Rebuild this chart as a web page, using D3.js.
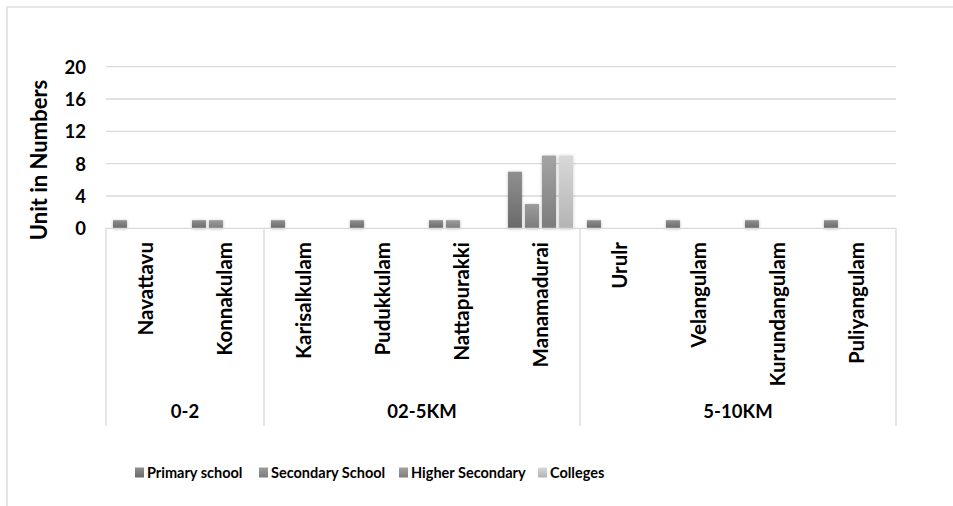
<!DOCTYPE html>
<html>
<head>
<meta charset="utf-8">
<script src="https://cdn.jsdelivr.net/npm/d3@7"></script>
<style>
  html, body { margin: 0; padding: 0; background: #fff; }
  svg { display: block; }
  text { font-family: Lato, "Open Sans", sans-serif; font-weight: bold; fill: #000; }
</style>
</head>
<body>
<svg id="chart" width="953" height="506"></svg>
<script>
// Villages, grouped by distance band
const villages = ["Navattavu", "Konnakulam", "Karisalkulam", "Pudukkulam", "Nattapurakki",
                  "Manamadurai", "Urulr", "Velangulam", "Kurundangulam", "Puliyangulam"];
const distanceBands = ["0-2", "02-5KM", "5-10KM"];
const bandOfVillage = ["0-2", "0-2", "02-5KM", "02-5KM", "02-5KM", "02-5KM",
                       "5-10KM", "5-10KM", "5-10KM", "5-10KM"];

// Series: number of institutions per village
const seriesNames = ["Primary school", "Secondary School", "Higher Secondary", "Colleges"];
const primarySchool   = [1, 1, 1, 1, 1, 7, 1, 1, 1, 1];
const secondarySchool = [0, 1, 0, 0, 1, 3, 0, 0, 0, 0];
const higherSecondary = [0, 0, 0, 0, 0, 9, 0, 0, 0, 0];
const colleges        = [0, 0, 0, 0, 0, 9, 0, 0, 0, 0];
const seriesValues = [primarySchool, secondarySchool, higherSecondary, colleges];

const yTicks = [0, 4, 8, 12, 16, 20];
const yTitle = "Unit in Numbers";

// Gradient stops (top, bottom) per series
const seriesShades = [["#8f8f8f", "#6a6a6a"], ["#9c9c9c", "#7c7c7c"],
                      ["#a4a4a4", "#7b7b7b"], ["#d8d8d8", "#b4b4b4"]];

const svg = d3.select("#chart");
const defs = svg.append("defs");

seriesShades.forEach((s, i) => {
  const g = defs.append("linearGradient").attr("id", "grad" + i)
    .attr("x1", 0).attr("y1", 0).attr("x2", 0).attr("y2", 1);
  g.append("stop").attr("offset", "0%").attr("stop-color", s[0]);
  g.append("stop").attr("offset", "100%").attr("stop-color", s[1]);
});
const shadow = defs.append("filter").attr("id", "shadow")
  .attr("x", "-40%").attr("y", "-40%").attr("width", "180%").attr("height", "180%");
shadow.append("feDropShadow").attr("dx", 0).attr("dy", 0.5)
  .attr("stdDeviation", 1.6).attr("flood-color", "#000").attr("flood-opacity", 0.28);

// Outer chart border
svg.append("rect").attr("x", 7).attr("y", 7).attr("width", 960).attr("height", 520)
  .attr("fill", "none").attr("stroke", "#d9d9d9").attr("stroke-width", 1.3);

const plot = { left: 106, right: 896, top: 66.7, bottom: 228.3 };

const y = d3.scaleLinear().domain([0, 20]).range([plot.bottom, plot.top]);
const x0 = d3.scaleBand().domain(villages).range([plot.left, plot.right]).padding(0);
const x1 = d3.scaleBand().domain(d3.range(seriesNames.length))
  .range([0, x0.bandwidth()]).paddingInner(0.18).paddingOuter(0.41);

// Gridlines
svg.append("g").selectAll("line").data(yTicks.filter(t => t > 0)).join("line")
  .attr("x1", plot.left).attr("x2", plot.right)
  .attr("y1", d => y(d)).attr("y2", d => y(d))
  .attr("stroke", "#d9d9d9").attr("stroke-width", 1.3);

// Y axis tick labels
const yAxis = d3.axisLeft(y).tickValues(yTicks).tickSize(0).tickPadding(0);
const yG = svg.append("g").attr("transform", `translate(${plot.left - 20},0)`).call(yAxis);
yG.select(".domain").remove();
yG.selectAll("text").attr("font-size", 18.5).attr("font-family", "Lato")
  .attr("font-weight", "bold").attr("fill", "#000").attr("dy", "0.35em");

// Y axis title
svg.append("text")
  .attr("transform", `translate(47,160) rotate(-90)`)
  .attr("text-anchor", "middle").attr("font-size", 22).text(yTitle);

// Bars
const barG = svg.append("g");
seriesValues.forEach((vals, si) => {
  barG.append("g").selectAll("rect")
    .data(vals.map((v, i) => ({ v, village: villages[i] })).filter(d => d.v > 0))
    .join("rect")
    .attr("x", d => x0(d.village) + x1(si))
    .attr("width", x1.bandwidth())
    .attr("y", d => y(d.v))
    .attr("height", d => y(0) - y(d.v))
    .attr("fill", `url(#grad${si})`)
    .attr("filter", "url(#shadow)");
});

// Category axis baseline
const catBottom = 426;
svg.append("line").attr("x1", plot.left).attr("x2", plot.right)
  .attr("y1", plot.bottom).attr("y2", plot.bottom)
  .attr("stroke", "#d9d9d9").attr("stroke-width", 1.3);

// Group separators (edges of each distance band)
const bandEdges = [plot.left];
distanceBands.forEach(b => {
  const last = villages.filter((v, i) => bandOfVillage[i] === b).slice(-1)[0];
  bandEdges.push(x0(last) + x0.bandwidth());
});
svg.append("g").selectAll("line").data(bandEdges).join("line")
  .attr("x1", d => d).attr("x2", d => d)
  .attr("y1", plot.bottom).attr("y2", catBottom)
  .attr("stroke", "#d9d9d9").attr("stroke-width", 1.3);

// Village labels, rotated
svg.append("g").selectAll("text").data(villages).join("text")
  .attr("transform", d => `translate(${x0(d) + x0.bandwidth() / 2 + 7.5},242) rotate(-90)`)
  .attr("text-anchor", "end").attr("font-size", 20.5).text(d => d);

// Distance band labels
svg.append("g").selectAll("text").data(distanceBands).join("text")
  .attr("x", (d, i) => (bandEdges[i] + bandEdges[i + 1]) / 2)
  .attr("y", 418).attr("text-anchor", "middle").attr("font-size", 18.5).text(d => d);

// Legend
const legendX = [135, 259, 399, 538];
const lg = svg.append("g").selectAll("g").data(seriesNames).join("g")
  .attr("transform", (d, i) => `translate(${legendX[i]},467)`);
lg.append("rect").attr("width", 9).attr("height", 10).attr("y", 0.5)
  .attr("fill", (d, i) => `url(#grad${i})`);
lg.append("text").attr("x", 12).attr("y", 11).attr("font-size", 14.5).text(d => d);
</script>
</body>
</html>
